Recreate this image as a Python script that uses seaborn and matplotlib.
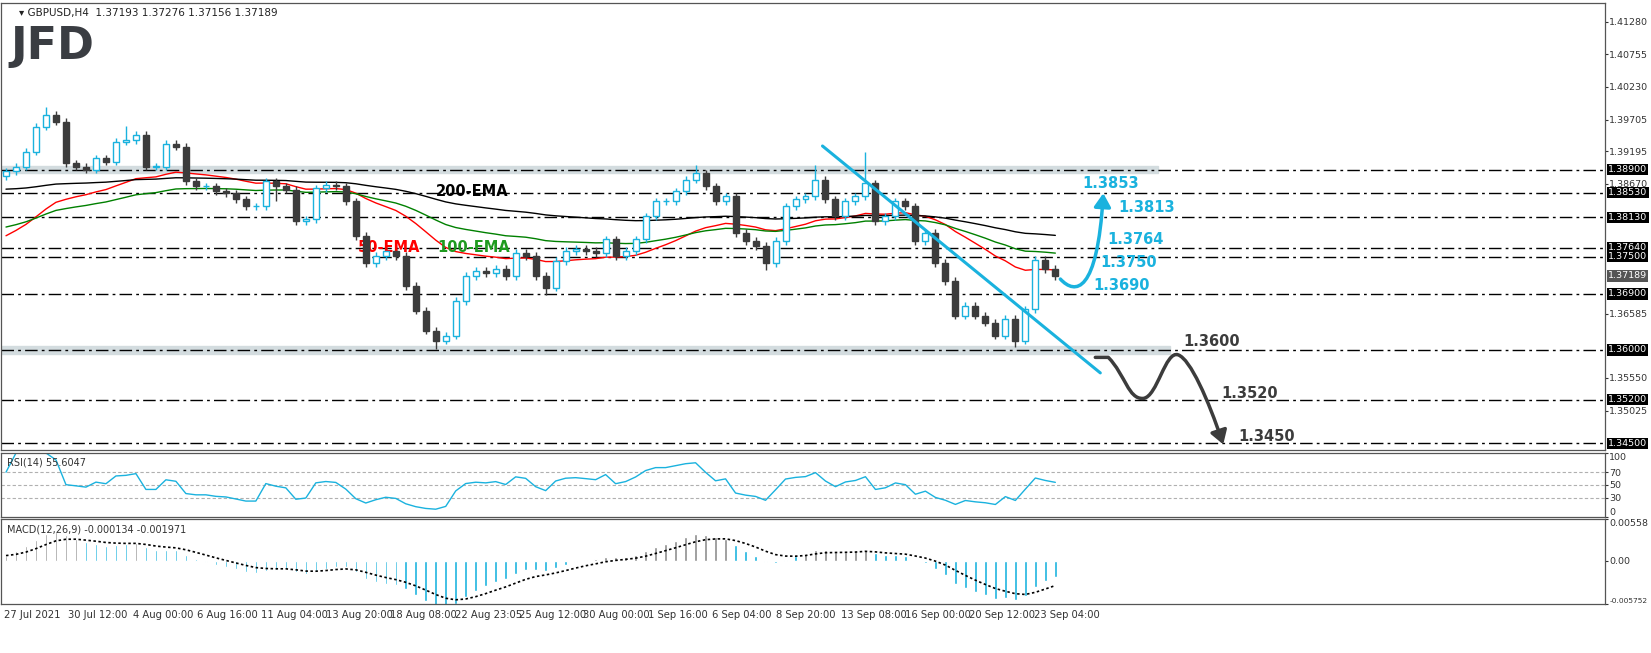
import numpy as np
import pandas as pd
import matplotlib
matplotlib.use("Agg")
import matplotlib.pyplot as plt
from matplotlib.path import Path
from matplotlib.patches import FancyArrowPatch, Rectangle
import seaborn as sns

# closing prices, one per candle
closes = [1.3887, 1.3895, 1.3919, 1.3959, 1.3978, 1.3967, 1.3900, 1.3895, 1.3890, 1.3908,
          1.3903, 1.3935, 1.3938, 1.3946, 1.3895, 1.3895, 1.3932, 1.3927, 1.3871, 1.3863,
          1.3863, 1.3855, 1.3852, 1.3842, 1.3831, 1.3831, 1.3871, 1.3863, 1.3858, 1.3807,
          1.3810, 1.3860, 1.3866, 1.3863, 1.3839, 1.3783, 1.3740, 1.3751, 1.3759, 1.3751,
          1.3703, 1.3663, 1.3631, 1.3615, 1.3623, 1.3679, 1.3719, 1.3727, 1.3724, 1.3730,
          1.3719, 1.3756, 1.3751, 1.3719, 1.3700, 1.3743, 1.3759, 1.3762, 1.3759, 1.3756,
          1.3778, 1.3751, 1.3759, 1.3778, 1.3815, 1.3839, 1.3839, 1.3855, 1.3874, 1.3884,
          1.3863, 1.3839, 1.3847, 1.3788, 1.3775, 1.3767, 1.3740, 1.3775, 1.3831, 1.3842,
          1.3847, 1.3874, 1.3842, 1.3815, 1.3839, 1.3847, 1.3868, 1.3807, 1.3815, 1.3839,
          1.3831, 1.3775, 1.3788, 1.3740, 1.3711, 1.3655, 1.3671, 1.3655, 1.3644, 1.3623,
          1.3650, 1.3615, 1.3665, 1.3745, 1.3730, 1.3719]
first_open = 1.3880
wick = 0.0006
high_spikes = {4: 1.3990, 12: 1.3960, 69: 1.3897, 81: 1.3897, 86: 1.3918}
low_spikes = {43: 1.3602, 54: 1.3688, 76: 1.3728, 101: 1.3605, 27: 1.3840}

ema_seed = {50: 1.3775, 100: 1.3794, 200: 1.3858}
ema_colors = {50: "#ff0000", 100: "#008000", 200: "#000000"}

levels = [1.3890, 1.3853, 1.3813, 1.3764, 1.3750, 1.3690, 1.3600, 1.3520, 1.3450]
plain_ticks = [1.41280, 1.40755, 1.40230, 1.39705, 1.39195, 1.38670, 1.36585, 1.35550, 1.35025]
last_price = 1.37189

date_labels = ["27 Jul 2021", "30 Jul 12:00", "4 Aug 00:00", "6 Aug 16:00", "11 Aug 04:00",
               "13 Aug 20:00", "18 Aug 08:00", "22 Aug 23:05", "25 Aug 12:00", "30 Aug 00:00",
               "1 Sep 16:00", "6 Sep 04:00", "8 Sep 20:00", "13 Sep 08:00", "16 Sep 00:00",
               "20 Sep 12:00", "23 Sep 04:00"]
date_pos = [-0.2 + 6.44 * k for k in range(len(date_labels))]

CYAN = "#1ab2de"
DARK = "#3c3c3c"
FS = 6.8

sns.set_style("white")
plt.rcParams["font.family"] = ["DejaVu Sans"]

n = len(closes)
idx = np.arange(n)
opens = [first_open] + closes[:-1]
highs = [high_spikes.get(i, max(o, c) + wick) for i, (o, c) in enumerate(zip(opens, closes))]
lows = [low_spikes.get(i, min(o, c) - wick) for i, (o, c) in enumerate(zip(opens, closes))]

df = pd.DataFrame({"bar": idx, "open": opens, "close": closes, "high": highs, "low": lows})
for span, seed in ema_seed.items():
    s = pd.Series([seed] + closes)
    df[f"ema{span}"] = s.ewm(span=span / 2, adjust=False).mean().values[1:]

# RSI (7 bars here ~ 14 bars of the original)
delta = df["close"].diff()
up = delta.clip(lower=0).ewm(alpha=1 / 7, adjust=False).mean()
dn = (-delta.clip(upper=0)).ewm(alpha=1 / 7, adjust=False).mean()
df["rsi"] = (100 - 100 / (1 + up / dn.replace(0, 1e-9))).fillna(60)
df.loc[0, "rsi"] = 70

ext = pd.Series([1.3820] * 20 + closes)
macd = (ext.ewm(span=9, adjust=False).mean() - ext.ewm(span=20, adjust=False).mean()).values[20:]
df["macd"] = macd
df["signal"] = pd.Series(macd).ewm(span=6, adjust=False).mean().values

W, H = 1651, 653
fig = plt.figure(figsize=(W / 100, H / 100), dpi=100)
left, right = 1 / W, 1605 / W
ax = fig.add_axes([left, 1 - 450 / H, right - left, 447 / H])
ax_rsi = fig.add_axes([left, 1 - 517 / H, right - left, 64 / H])
ax_macd = fig.add_axes([left, 1 - 604 / H, right - left, 85 / H])

xlim = (-0.5, 160.0)

# levels and zones
for lv in levels:
    ax.axhline(lv, color="black", lw=1.0, ls=(0, (9, 3, 2, 3)), zorder=1)
ax.add_patch(Rectangle((-0.5, 1.3890 - 0.0006), 115.8, 0.0012, color="#d3dcdf", zorder=0.5))
ax.add_patch(Rectangle((-0.5, 1.3600 - 0.0006), 117.0, 0.0012, color="#d3dcdf", zorder=0.5))

# EMAs
for span, col in ema_colors.items():
    sns.lineplot(data=df, x="bar", y=f"ema{span}", ax=ax, color=col, lw=1.0, zorder=2)

# candles
for _, r in df.iterrows():
    bull = r["close"] >= r["open"]
    col = CYAN if bull else DARK
    ax.vlines(r["bar"], r["low"], r["high"], color=col, lw=1.0, zorder=3)
    lo, hi = sorted([r["open"], r["close"]])
    ax.add_patch(Rectangle((r["bar"] - 0.3, lo), 0.6, max(hi - lo, 0.00008),
                           facecolor="white" if bull else DARK, edgecolor=col, lw=1.0, zorder=4))

# trend line
ax.plot([81.7, 109.5], [1.3928, 1.3563], color=CYAN, lw=2.2, zorder=5)

# scenario arrows
p_up = Path([(105.5, 1.3714), (107.0, 1.3688), (109.2, 1.3690), (109.8, 1.3852)],
            [Path.MOVETO, Path.CURVE4, Path.CURVE4, Path.CURVE4])
ax.add_patch(FancyArrowPatch(path=p_up, arrowstyle="-|>,head_length=8,head_width=5",
                             color=CYAN, lw=2.5, zorder=6))
p_dn = Path([(109.0, 1.3588), (110.3, 1.3588),
             (112.0, 1.3560), (112.3, 1.3520), (113.8, 1.3522),
             (115.2, 1.3524), (116.0, 1.3600), (117.3, 1.3592),
             (118.5, 1.3585), (120.3, 1.3520), (121.8, 1.3448)],
            [Path.MOVETO, Path.LINETO] + [Path.CURVE4] * 9)
ax.add_patch(FancyArrowPatch(path=p_dn, arrowstyle="-|>,head_length=8,head_width=5",
                             color=DARK, lw=2.5, zorder=6))

for txt, x, y, c in [("1.3853", 107.7, 1.3868, CYAN), ("1.3813", 111.3, 1.3829, CYAN),
                     ("1.3764", 110.2, 1.3778, CYAN), ("1.3750", 109.5, 1.3740, CYAN),
                     ("1.3690", 108.8, 1.3703, CYAN), ("1.3600", 117.8, 1.3613, DARK),
                     ("1.3520", 121.6, 1.3530, DARK), ("1.3450", 123.3, 1.3460, DARK)]:
    ax.text(x, y, txt, color=c, fontsize=10.5, fontweight="bold", va="center", ha="left", zorder=7)

ax.text(43.0, 1.3855, "200-EMA", color="black", fontsize=10.5, fontweight="bold", va="center")
ax.text(35.2, 1.3765, "50-EMA", color="#ff0000", fontsize=10.5, fontweight="bold", va="center")
ax.text(43.2, 1.3765, "100-EMA", color="#1f9a1f", fontsize=10.5, fontweight="bold", va="center")

ax.text(0.011, 0.988, "\u25BE GBPUSD,H4  1.37193 1.37276 1.37156 1.37189", transform=ax.transAxes,
        fontsize=7.5, color="#222222", va="top")
ax.text(0.006, 0.95, "JFD", transform=ax.transAxes, fontsize=32, fontweight="bold",
        color="#3a3d42", va="top")

ax.set_xlim(*xlim)
ax.set_ylim(1.3439, 1.4158)
ax.yaxis.tick_right()
ax.set_yticks(plain_ticks)
ax.set_yticklabels([f"{t:.5f}" for t in plain_ticks])
for lv in levels:
    ax.text(1.002, lv, f"{lv:.5f}", transform=ax.get_yaxis_transform(), fontsize=FS, color="white",
            va="center", ha="left", bbox=dict(boxstyle="square,pad=0.12", fc="black", ec="none"))
ax.text(1.002, last_price, f"{last_price:.5f}", transform=ax.get_yaxis_transform(), fontsize=FS,
        color="white", va="center", ha="left", bbox=dict(boxstyle="square,pad=0.12", fc="#555555", ec="none"))

# RSI
for lv in [30, 50, 70]:
    ax_rsi.axhline(lv, color="#b0b0b0", lw=0.8, ls=(0, (3, 2)))
sns.lineplot(data=df, x="bar", y="rsi", ax=ax_rsi, color=CYAN, lw=1.0)
ax_rsi.set_xlim(*xlim)
ax_rsi.set_ylim(0, 100)
ax_rsi.yaxis.tick_right()
ax_rsi.set_yticks([0, 30, 50, 70, 100])
ax_rsi.text(0.004, 0.93, "RSI(14) 55.6047", transform=ax_rsi.transAxes, fontsize=7, color="#333333", va="top")

# MACD
bar_cols = [CYAN if m < 0 or m < s else "#8c8c8c" for m, s in zip(df["macd"], df["signal"])]
ax_macd.bar(df["bar"], df["macd"], width=0.25, color=bar_cols)
ax_macd.plot(df["bar"], df["signal"], color="black", lw=1.2, ls=(0, (1.5, 1.5)))
ax_macd.set_xlim(*xlim)
ax_macd.set_ylim(-0.005752, 0.00558)
ax_macd.yaxis.tick_right()
ax_macd.set_yticks([-0.005752, 0.0, 0.00558])
ax_macd.set_yticklabels(["-0.005752", "0.00", "0.00558"])
ax_macd.text(0.004, 0.93, "MACD(12,26,9) -0.000134 -0.001971", transform=ax_macd.transAxes,
             fontsize=7, color="#333333", va="top")
ax_macd.set_xticks(date_pos)
ax_macd.set_xticklabels(date_labels, ha="left")

for a in [ax, ax_rsi, ax_macd]:
    a.set_xlabel("")
    a.set_ylabel("")
    a.tick_params(axis="y", labelsize=FS, length=2, colors="#333333", pad=1, direction="out")
    a.tick_params(axis="x", labelsize=7.2, length=3, colors="#333333", pad=1)
    for sp in a.spines.values():
        sp.set_color("#555555")
        sp.set_linewidth(0.9)
ax.set_xticks([])
ax_rsi.set_xticks([])

# keep the edge labels of the small panels inside their panels
rl = ax_rsi.get_yticklabels()
rl[0].set_va("bottom")
rl[-1].set_va("top")
ml = ax_macd.get_yticklabels()
ml[-1].set_va("top")
ml[0].set_va("bottom")
ml[0].set_fontsize(5.4)

fig.savefig("out.png", dpi=100)
